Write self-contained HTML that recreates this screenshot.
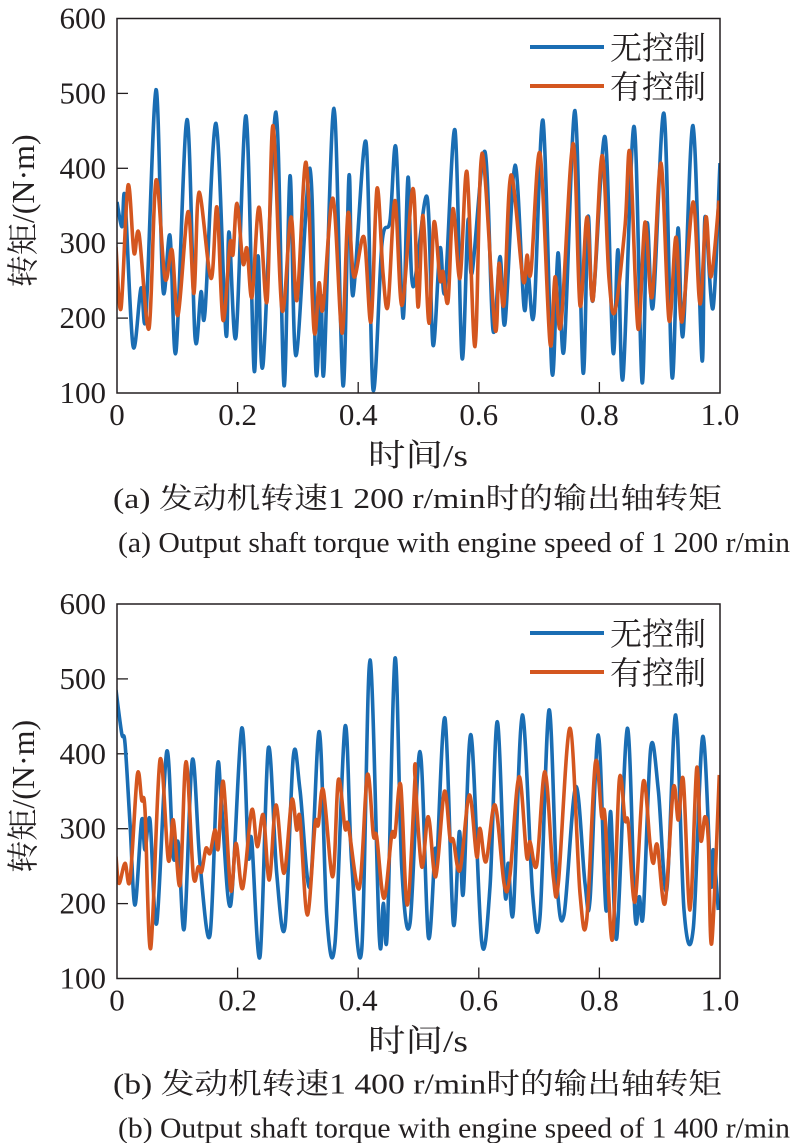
<!DOCTYPE html>
<html><head><meta charset="utf-8">
<style>
html,body{margin:0;padding:0;background:#fff;}
svg{display:block;}
text{font-family:"Liberation Serif","Noto Serif CJK SC","Noto Sans CJK SC",serif;fill:#231f20;}
</style></head><body>
<svg id="s" width="792" height="1143" viewBox="0 0 792 1143" xmlns="http://www.w3.org/2000/svg">
<g id="g"></g>
</svg>
<script>
var NS="http://www.w3.org/2000/svg";
var g=document.getElementById("g");
function el(t,a,txt){var e=document.createElementNS(NS,t);for(var k in a)e.setAttribute(k,a[k]);if(txt!==undefined)e.textContent=txt;g.appendChild(e);return e;}
function path(pts){
  var d="M"+pts[0][0]+","+pts[0][1];
  for(var i=0;i<pts.length-1;i++){
    var p0=pts[Math.max(0,i-1)],p1=pts[i],p2=pts[i+1],p3=pts[Math.min(pts.length-1,i+2)];
    var c1x=p1[0]+(p2[0]-p0[0])/6,c1y=p1[1]+(p2[1]-p0[1])/6;
    var c2x=p2[0]-(p3[0]-p1[0])/6,c2y=p2[1]-(p3[1]-p1[1])/6;
    d+=" C"+c1x.toFixed(1)+","+c1y.toFixed(1)+" "+c2x.toFixed(1)+","+c2y.toFixed(1)+" "+p2[0].toFixed(1)+","+p2[1].toFixed(1);
  }
  return d;
}
function axes(top,caps){
  var L=117,R=720,B=top+374.5,T=top;
  var sy=(B-T)/500;
  for(var v=100;v<=600;v+=100){
    var y=B-(v-100)*sy;
    el("text",{x:106,y:y+10,"text-anchor":"end","font-size":"31"},String(v));
    if(v>100&&v<600) el("line",{x1:L,y1:y,x2:L+11,y2:y,stroke:"#231f20","stroke-width":"1.3"});
  }
  var labs=["0","0.2","0.4","0.6","0.8","1.0"];
  for(var i=0;i<6;i++){
    var x=L+i*(R-L)/5;
    el("text",{x:x,y:B+32,"text-anchor":"middle","font-size":"31"},labs[i]);
    if(i>0&&i<5) el("line",{x1:x,y1:B,x2:x,y2:B-11,stroke:"#231f20","stroke-width":"1.3"});
  }
  el("text",{x:0,y:0,"font-size":"32","text-anchor":"middle",transform:"translate(34,"+((T+B)/2+5)+") rotate(-90)"},"转矩/(N·m)");
  el("text",{x:368,y:B+73,"font-size":"31",textLength:"100",lengthAdjust:"spacingAndGlyphs"},"时间/s");
  el("text",{x:113,y:B+115,"font-size":"29",textLength:"609",lengthAdjust:"spacingAndGlyphs"},caps[0]);
  el("text",{x:118,y:B+159,"font-size":"29",textLength:"672",lengthAdjust:"spacingAndGlyphs"},caps[1]);
  return {L:L,R:R,T:T,B:B};
}
function frame(a){
  el("rect",{x:a.L,y:a.T,width:a.R-a.L,height:a.B-a.T,fill:"none",stroke:"#231f20","stroke-width":"1.5"});
}
function legend(top){
  el("line",{x1:530,y1:top+29,x2:604,y2:top+29,stroke:"#1a6db3","stroke-width":"4"});
  el("line",{x1:530,y1:top+68,x2:604,y2:top+68,stroke:"#d4561f","stroke-width":"4"});
  el("text",{x:610,y:top+41,"font-size":"32"},"无控制");
  el("text",{x:610,y:top+80,"font-size":"32"},"有控制");
}
function clipDef(id,a){
  var cp=el("clipPath",{id:id});
  var r=document.createElementNS(NS,"rect");
  r.setAttribute("x",a.L);r.setAttribute("y",a.T);r.setAttribute("width",a.R-a.L);r.setAttribute("height",a.B-a.T);
  cp.appendChild(r);
}
var a1=axes(18.5,["(a) 发动机转速1 200 r/min时的输出轴转矩","(a) Output shaft torque with engine speed of 1 200 r/min"]);
clipDef("c1",a1);
function vy(v){return 18.5+(600-v)*0.749;}
var tb=[[117,355],[122,322],[125,360],[133,163],[141,240],[146,205],[156,505],[163,238],[170,310],[176,155],[187,465],[195,175],[201,235],[205,208],[216,460],[226,178],[229,315],[236,175],[246,470],[254,132],[258,283],[263,137],[276,475],[284,110],[290,390],[296,150],[310,400],[316,127],[321,230],[324,130],[334,480],[343,110],[349,390],[353,230],[366,435],[373,105],[382,300],[390,330],[396,427],[403,200],[408,388],[413,242],[427,362],[433,164],[440,293],[445,237],[455,451],[462,147],[468,330],[472,260],[485,422],[493,184],[500,282],[505,193],[515,404],[524,215],[528,260],[534,206],[543,464],[552,127],[558,287],[564,157],[575,477],[583,128],[588,335],[593,224],[605,442],[613,155],[618,291],[623,120],[634,456],[642,115],[647,326],[653,215],[664,473],[672,122],[678,320],[683,177],[693,457],[702,144],[705,335],[713,213],[720,407]];
var to=[[116,295],[121,213],[128,377],[134,287],[139,313],[149,186],[156,384],[165,253],[172,291],[178,204],[188,342],[194,233],[199,368],[211,253],[217,348],[223,197],[230,300],[233,285],[237,353],[243,273],[247,293],[252,228],[259,348],[267,222],[273,457],[282,211],[291,335],[297,224],[306,408],[314,184],[319,247],[323,213],[333,360],[342,180],[348,340],[354,255],[364,308],[371,195],[377,373],[383,260],[388,217],[395,357],[402,217],[413,373],[418,215],[423,337],[429,193],[434,328],[440,251],[443,262],[448,222],[453,346],[460,253],[467,395],[475,162],[482,420],[495,186],[499,273],[504,219],[511,391],[523,251],[527,284],[531,262],[540,420],[550,167],[555,255],[561,191],[573,433],[580,217],[587,335],[593,224],[602,417],[609,253],[615,209],[625,322],[630,420],[638,186],[645,328],[652,228],[661,407],[669,197],[676,308],[682,195],[693,355],[700,219],[706,335],[711,255],[719,357]];
function mk(arr,f){return arr.map(function(p){return [p[0],f(p[1])];});}
el("path",{d:path(mk(tb,vy)),fill:"none",stroke:"#1a6db3","stroke-width":"3.6","stroke-linejoin":"round","clip-path":"url(#c1)"});
el("path",{d:path(mk(to,vy)),fill:"none",stroke:"#d4561f","stroke-width":"3.6","stroke-linejoin":"round","clip-path":"url(#c1)"});
frame(a1);legend(18);
var a2=axes(604,["(b) 发动机转速1 400 r/min时的输出轴转矩","(b) Output shaft torque with engine speed of 1 400 r/min"]);
clipDef("c2",a2);
function z3(p){return [100+p[0]/3,590+p[1]/3];}
function z4(p){return [410+p[0]/3,590+p[1]/3];}
var bb3=[[48,300],[65,430],[75,460],[90,700],[105,945],[125,690],[135,780],[150,690],[170,1000],[200,485],[220,800],[235,760],[253,1015],[277,510],[300,820],[330,1035],[352,535],[365,650],[392,945],[425,415],[445,795],[455,750],[480,1100],[505,475],[530,850],[555,1010],[580,500],[600,600],[630,890],[658,425],[680,975],[705,1060],[735,410],[755,820],[785,1080],[810,210],[838,1040],[850,940],[862,1025],[885,205],[905,830],[930,1000]];
var bb4=[[30,485],[55,1040],[75,780],[80,830],[105,385],[130,1000],[148,725],[160,910],[183,435],[215,1055],[240,890],[262,395],[285,910],[295,820],[310,965],[337,375],[368,915],[390,980],[417,360],[440,870],[462,975],[497,590],[525,880],[540,930],[565,435],[588,960],[602,665],[620,1045],[652,415],[675,975],[688,920],[700,970],[722,475],[745,600],[770,900],[797,375],[822,960],[850,1015],[878,440],[903,880],[910,780],[925,960]];
var bo3=[[48,800],[57,880],[75,820],[90,870],[112,555],[125,630],[135,660],[152,1075],[180,510],[205,810],[220,690],[240,885],[258,515],[280,855],[295,830],[305,845],[318,775],[330,790],[345,720],[355,775],[370,575],[392,900],[408,760],[428,895],[455,660],[472,770],[490,675],[508,870],[528,645],[552,850],[575,630],[590,720],[600,685],[622,975],[645,705],[655,705],[670,600],[698,860],[715,570],[735,715],[745,705],[778,895],[802,555],[820,735],[830,740],[852,925],[875,735],[885,735],[902,585],[922,945],[945,565]];
var bo4=[[15,560],[35,830],[55,680],[77,860],[103,605],[120,745],[130,750],[150,840],[178,615],[200,800],[210,715],[228,815],[255,645],[283,885],[300,855],[327,560],[350,800],[360,755],[380,825],[405,545],[430,860],[445,880],[480,415],[510,910],[530,990],[556,520],[575,680],[585,680],[607,1050],[628,570],[645,690],[655,700],[675,935],[700,575],[720,760],[730,820],[742,765],[765,940],[790,595],[805,690],[820,570],[840,960],[860,535],[872,750],[885,680],[895,750],[905,1060],[928,555]];
var bB=bb3.map(z3).concat(bb4.map(z4));
var bO=bo3.map(z3).concat(bo4.map(z4));
el("path",{d:path(bB),fill:"none",stroke:"#1a6db3","stroke-width":"3.6","stroke-linejoin":"round","clip-path":"url(#c2)"});
el("path",{d:path(bO),fill:"none",stroke:"#d4561f","stroke-width":"3.6","stroke-linejoin":"round","clip-path":"url(#c2)"});
frame(a2);legend(604);
</script>
</body></html>
